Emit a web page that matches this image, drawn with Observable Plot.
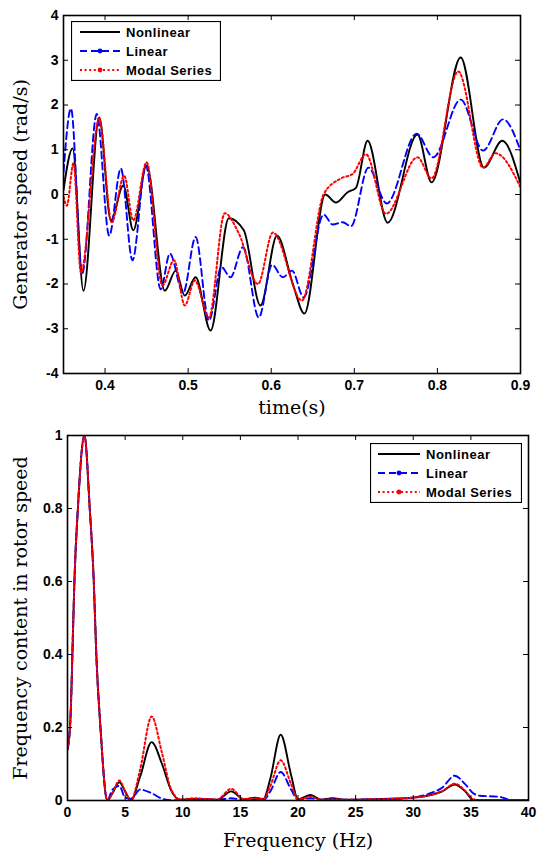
<!DOCTYPE html>
<html><head><meta charset="utf-8">
<script src="https://cdn.jsdelivr.net/npm/d3@7"></script>
<script src="https://cdn.jsdelivr.net/npm/@observablehq/plot@0.6"></script>
<style>
body{margin:0;background:#fff;}
#wrap{position:relative;width:537px;height:851px;overflow:hidden;}
.chart{position:absolute;left:0;}
.legend{position:absolute;}
</style></head><body><div id="wrap"></div>
<script>
// ---------- Top chart data: generator speed vs time ----------
const seriesNames = ["Nonlinear", "Linear", "Modal Series"];
const nlTime = [0.35, 0.361, 0.374, 0.393, 0.407, 0.422, 0.434, 0.450, 0.472, 0.485, 0.496, 0.509, 0.527, 0.549, 0.567, 0.587, 0.607, 0.626, 0.640, 0.665, 0.678, 0.692, 0.702, 0.716, 0.740, 0.776, 0.793, 0.828, 0.856, 0.878, 0.9];
const nlSpeed = [0.1, 1.03, -2.15, 1.72, -0.58, 0.2, -0.8, 0.65, -2.15, -1.7, -2.26, -1.85, -3.04, -0.53, -0.8, -2.48, -0.92, -2.0, -2.66, 0.0, -0.18, 0.05, 0.15, 1.2, -0.63, 1.34, 0.27, 3.06, 0.6, 1.2, 0.25];
const linTime = [0.35, 0.359, 0.3725, 0.390, 0.405, 0.419, 0.433, 0.449, 0.467, 0.478, 0.494, 0.509, 0.525, 0.540, 0.551, 0.566, 0.585, 0.601, 0.614, 0.625, 0.639, 0.663, 0.674, 0.686, 0.696, 0.717, 0.739, 0.775, 0.795, 0.828, 0.855, 0.879, 0.9];
const linSpeed = [0.5, 1.92, -1.77, 1.8, -0.92, 0.58, -1.47, 0.65, -2.12, -1.32, -2.2, -0.95, -2.82, -1.62, -1.85, -1.18, -2.75, -1.57, -1.85, -1.7, -2.3, -0.45, -0.67, -0.62, -0.71, 0.6, -0.2, 1.36, 0.83, 2.12, 0.98, 1.68, 0.98];
const modTime = [0.35, 0.354, 0.362, 0.371, 0.393, 0.408, 0.423, 0.434, 0.450, 0.469, 0.483, 0.496, 0.508, 0.525, 0.544, 0.561, 0.584, 0.602, 0.637, 0.663, 0.684, 0.698, 0.714, 0.738, 0.776, 0.793, 0.825, 0.855, 0.870, 0.9];
const modSpeed = [-0.05, -0.25, 0.7, -1.75, 1.7, -0.62, 0.42, -0.58, 0.72, -2.03, -1.47, -2.48, -1.92, -2.75, -0.42, -0.87, -2.0, -0.85, -2.37, 0.0, 0.36, 0.46, 0.9, -0.43, 0.83, 0.36, 2.75, 0.6, 0.92, 0.16];
const timeTicks = [0.4, 0.5, 0.6, 0.7, 0.8, 0.9];
const speedTicks = [-4, -3, -2, -1, 0, 1, 2, 3, 4];

// ---------- Bottom chart data: frequency content ----------
const freq = [0, 0.25, 0.5, 0.6, 0.9, 1.47, 1.93, 2.28, 2.5, 2.86, 3.45, 3.9, 4.5, 5.0, 5.5, 6.3, 7.3, 8.2, 9.0, 9.8, 11, 12, 13, 14.2, 15.3, 16.3, 17.0, 17.6, 18.5, 19.4, 20.0, 21.1, 22.0, 23.0, 24, 26, 28, 30, 31.5, 32.5, 33.6, 34.5, 35.2, 35.8, 37.5, 38.5, 40];
const nlFreq = [0.14, 0.22, 0.49, 0.6, 0.8, 1.0, 0.8, 0.6, 0.4, 0.2, 0.0, 0.02, 0.05, 0.025, 0.0, 0.065, 0.16, 0.1, 0.027, 0.002, 0.004, 0.003, 0.002, 0.025, 0.003, 0.008, 0.004, 0.06, 0.18, 0.07, 0.003, 0.015, 0.002, 0.006, 0.002, 0.003, 0.005, 0.008, 0.015, 0.025, 0.044, 0.025, 0.002, 0.001, 0.001, 0.001, 0.001];
const linFreq = [0.14, 0.22, 0.49, 0.6, 0.8, 1.0, 0.8, 0.6, 0.4, 0.2, 0.0, 0.03, 0.04, 0.008, 0.005, 0.03, 0.02, 0.005, 0.001, 0.001, 0.005, 0.004, 0.002, 0.006, 0.002, 0.002, 0.001, 0.025, 0.078, 0.03, 0.002, 0.006, 0.002, 0.003, 0.002, 0.003, 0.004, 0.008, 0.02, 0.035, 0.068, 0.045, 0.02, 0.013, 0.01, 0.001, 0.001];
const modFreq = [0.14, 0.22, 0.49, 0.6, 0.8, 1.0, 0.8, 0.6, 0.4, 0.2, 0.0, 0.02, 0.055, 0.025, 0.0, 0.085, 0.23, 0.13, 0.03, 0.003, 0.006, 0.004, 0.003, 0.032, 0.004, 0.006, 0.003, 0.04, 0.11, 0.045, 0.003, 0.01, 0.002, 0.003, 0.002, 0.003, 0.004, 0.008, 0.015, 0.025, 0.046, 0.027, 0.003, 0.001, 0.001, 0.001, 0.001];
const freqTicks = [0, 5, 10, 15, 20, 25, 30, 35, 40];
const contentTicks = [0, 0.2, 0.4, 0.6, 0.8, 1];

// ---------- styles ----------
const styles = [
  {stroke: "#000000", strokeWidth: 1.9, dash: null, marker: false},
  {stroke: "#0000ff", strokeWidth: 1.9, dash: "7,4", marker: true},
  {stroke: "#ff0000", strokeWidth: 2, dash: "2,2.6", marker: true}
];
const tickFont = {fontFamily: "'Liberation Sans', Arial, sans-serif", fontWeight: "bold", fontSize: 14};
const labelFont = "'DejaVu Serif', serif";

const wrap = document.getElementById("wrap");

function zip(xs, ys) { return xs.map((x, i) => ({x, y: ys[i]})); }

function makeChart(cfg) {
  const pw = cfg.width - cfg.ml - cfg.mr;
  const ph = cfg.height - cfg.mt - cfg.mb;
  const lines = cfg.series.map((s, i) => Plot.line(s, {
    x: "x", y: "y", stroke: styles[i].stroke, strokeWidth: styles[i].strokeWidth,
    strokeDasharray: styles[i].dash, curve: "monotone-x", clip: true
  }));
  const tk = 5;
  const p = Plot.plot({
    width: cfg.width, height: cfg.height,
    marginTop: cfg.mt, marginRight: cfg.mr, marginBottom: cfg.mb, marginLeft: cfg.ml,
    style: {background: "white", overflow: "visible"},
    x: {domain: cfg.xDomain},
    y: {domain: cfg.yDomain},
    marks: [
      ...lines,
      Plot.tickX(cfg.xTicks, {x: d => d, insetTop: ph - tk, stroke: "black", strokeWidth: 1}),
      Plot.tickX(cfg.xTicks, {x: d => d, insetBottom: ph - tk, stroke: "black", strokeWidth: 1}),
      Plot.tickY(cfg.yTicks, {y: d => d, insetRight: pw - tk, stroke: "black", strokeWidth: 1}),
      Plot.tickY(cfg.yTicks, {y: d => d, insetLeft: pw - tk, stroke: "black", strokeWidth: 1}),
      Plot.frame({stroke: "black", strokeWidth: 1.6}),
      Plot.axisX(cfg.xTicks, {tickSize: 0, tickPadding: 7, label: null, tickFormat: cfg.xFormat, ...tickFont, fill: "black"}),
      Plot.axisY(cfg.yTicks, {tickSize: 0, tickPadding: 5, label: null, tickFormat: cfg.yFormat, ...tickFont, fill: "black"}),
      Plot.text([cfg.xLabel], {frameAnchor: "bottom", dy: cfg.xLabelDy, textAnchor: "middle", lineAnchor: "middle", fontFamily: labelFont, fontSize: 19, fill: "black"}),
      Plot.text([cfg.yLabel], {frameAnchor: "left", dx: cfg.yLabelDx, rotate: -90, textAnchor: "middle", lineAnchor: "middle", fontFamily: labelFont, fontSize: 19, fill: "black"})
    ]
  });
  p.classList.add("chart");
  p.style.top = cfg.top + "px";
  wrap.appendChild(p);
}

function makeLegend(left, top, w, h, rows, lineX1, lineX2, textX) {
  const ns = "http://www.w3.org/2000/svg";
  const svg = document.createElementNS(ns, "svg");
  svg.setAttribute("width", w); svg.setAttribute("height", h);
  svg.setAttribute("class", "legend");
  svg.style.left = left + "px"; svg.style.top = top + "px";
  let html = `<rect x="0.5" y="0.5" width="${w-1}" height="${h-1}" fill="white" stroke="black" stroke-width="1.2"/>`;
  seriesNames.forEach((name, i) => {
    const s = styles[i], y = rows[i];
    html += `<line x1="${lineX1}" x2="${lineX2}" y1="${y}" y2="${y}" stroke="${s.stroke}" stroke-width="${s.strokeWidth}" ${s.dash ? `stroke-dasharray="${s.dash}"` : ""}/>`;
    if (s.marker) html += `<circle cx="${(lineX1+lineX2)/2}" cy="${y}" r="2.4" fill="${s.stroke}"/>`;
    html += `<text x="${textX}" y="${y}" dy="0.36em" font-family="'Liberation Sans', Arial, sans-serif" font-weight="bold" font-size="13" letter-spacing="0.5" fill="black">${name}</text>`;
  });
  svg.innerHTML = html;
  wrap.appendChild(svg);
}

makeChart({
  top: 0, width: 537, height: 420, mt: 15, mr: 17, mb: 47, ml: 63,
  series: [zip(nlTime, nlSpeed), zip(linTime, linSpeed), zip(modTime, modSpeed)],
  xDomain: [0.35, 0.9], yDomain: [-4, 4],
  xTicks: timeTicks, yTicks: speedTicks,
  xFormat: d => String(d), yFormat: d => String(d),
  xLabel: "time(s)", xLabelDy: 34,
  yLabel: "Generator speed (rad/s)", yLabelDx: -43
});
makeChart({
  top: 420, width: 537, height: 431, mt: 15, mr: 9, mb: 51, ml: 67,
  series: [zip(freq, nlFreq), zip(freq, linFreq), zip(freq, modFreq)],
  xDomain: [0, 40], yDomain: [0, 1],
  xTicks: freqTicks, yTicks: contentTicks,
  xFormat: d => String(d), yFormat: d => String(d),
  xLabel: "Frequency (Hz)", xLabelDy: 40,
  yLabel: "Frequency content in rotor speed", yLabelDx: -47
});
makeLegend(71, 21, 150, 60, [11, 30, 49], 9, 49, 55);
makeLegend(370, 443, 152, 60, [11, 30, 49], 8, 50, 56);
</script></body></html>
